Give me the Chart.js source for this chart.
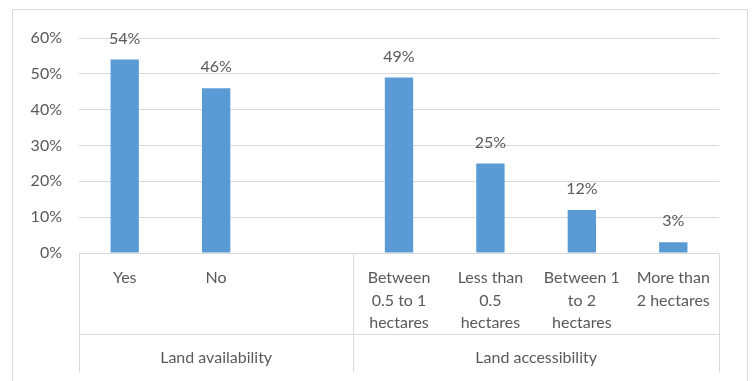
<!DOCTYPE html>
<html>
<head>
<meta charset="utf-8">
<script src="https://cdn.jsdelivr.net/npm/chart.js@4/dist/chart.umd.min.js"></script>
<style>
  html, body { margin: 0; padding: 0; background: #fff; }
  #wrap { width: 753px; height: 381px; }
</style>
</head>
<body>
<div id="wrap"><canvas id="grafico" width="753" height="381"></canvas></div>
<script>
// categorias (cada una en lineas) y valores en %
const categorias = [
  ["Yes"],
  ["No"],
  [""],
  ["Between", "0.5 to 1", "hectares"],
  ["Less than", "0.5", "hectares"],
  ["Between 1", "to 2", "hectares"],
  ["More than", "2 hectares"]
];
const valores = [54, 46, null, 49, 25, 12, 3];
const grupos = ["Land availability", "Land accessibility"];
const grupoInicio = [0, 3]; // indice de la primera categoria de cada grupo
const ticksY = [0, 10, 20, 30, 40, 50, 60];

const FUENTE = "Lato, 'Open Sans', sans-serif";
const GRIS = "#D9D9D9";
const TEXTO = "#595959";

// marco, etiquetas de categorias y lineas separadoras
const ejeCategorias = {
  id: "ejeCategorias",
  beforeDraw(chart) {
    const ctx = chart.ctx;
    ctx.save();
    ctx.strokeStyle = GRIS;
    ctx.lineWidth = 1;
    ctx.beginPath();
    ctx.moveTo(12.5, 381);
    ctx.lineTo(12.5, 9.5);
    ctx.lineTo(747.5, 9.5);
    ctx.lineTo(747.5, 381);
    ctx.stroke();
    ctx.restore();
  },
  afterDraw(chart) {
    const ctx = chart.ctx;
    const x = chart.scales.x;
    const area = chart.chartArea;
    const abajo = Math.round(area.bottom) + 0.5;
    ctx.save();
    ctx.strokeStyle = GRIS;
    ctx.lineWidth = 1;
    // lineas verticales entre grupos
    const bordes = grupoInicio.map(i => x.getPixelForValue(i - 0.5));
    bordes.push(x.getPixelForValue(categorias.length - 0.5));
    ctx.beginPath();
    bordes.forEach(px => {
      const p = Math.round(px) + 0.5;
      ctx.moveTo(p, abajo);
      ctx.lineTo(p, 372);
    });
    // linea entre los dos niveles
    ctx.moveTo(Math.round(bordes[0]) + 0.5, 334.5);
    ctx.lineTo(Math.round(bordes[bordes.length - 1]) + 0.5, 334.5);
    ctx.stroke();

    ctx.fillStyle = TEXTO;
    ctx.font = "16px " + FUENTE;
    ctx.textAlign = "center";
    ctx.textBaseline = "middle";
    categorias.forEach((lineas, i) => {
      const cx = x.getPixelForValue(i);
      lineas.forEach((t, j) => ctx.fillText(t, cx, 278 + j * 22.5));
    });
    grupos.forEach((g, k) => {
      const cx = (bordes[k] + bordes[k + 1]) / 2;
      ctx.fillText(g, cx, 358);
    });
    ctx.restore();
  }
};

// valores encima de las barras
const etiquetasValor = {
  id: "etiquetasValor",
  afterDatasetsDraw(chart) {
    const ctx = chart.ctx;
    const meta = chart.getDatasetMeta(0);
    ctx.save();
    ctx.fillStyle = TEXTO;
    ctx.font = "16px " + FUENTE;
    ctx.textAlign = "center";
    ctx.textBaseline = "middle";
    meta.data.forEach((barra, i) => {
      if (valores[i] === null) return;
      ctx.fillText(valores[i] + "%", barra.x, barra.y - 21);
    });
    ctx.restore();
  }
};

new Chart(document.getElementById("grafico"), {
  type: "bar",
  data: {
    labels: categorias.map(l => l.join(" ")),
    datasets: [{
      data: valores,
      backgroundColor: "#5B9BD5",
      barPercentage: 0.31,
      categoryPercentage: 1
    }]
  },
  options: {
    responsive: false,
    animation: false,
    events: [],
    layout: { padding: { top: 38, right: 34, left: 0, bottom: 0 } },
    plugins: { legend: { display: false }, tooltip: { enabled: false } },
    scales: {
      x: {
        grid: { display: false },
        border: { display: false },
        ticks: { display: false },
        afterFit(s) { s.height = 128; }
      },
      y: {
        min: 0,
        max: 60,
        afterBuildTicks(s) { s.ticks = ticksY.map(v => ({ value: v })); },
        grid: { color: GRIS, drawTicks: false },
        border: { display: false },
        ticks: {
          padding: 17,
          color: TEXTO,
          font: { size: 16, family: FUENTE },
          callback: v => v + "%"
        },
        afterFit(s) { s.width = 79; }
      }
    }
  },
  plugins: [ejeCategorias, etiquetasValor]
});
</script>
</body>
</html>
